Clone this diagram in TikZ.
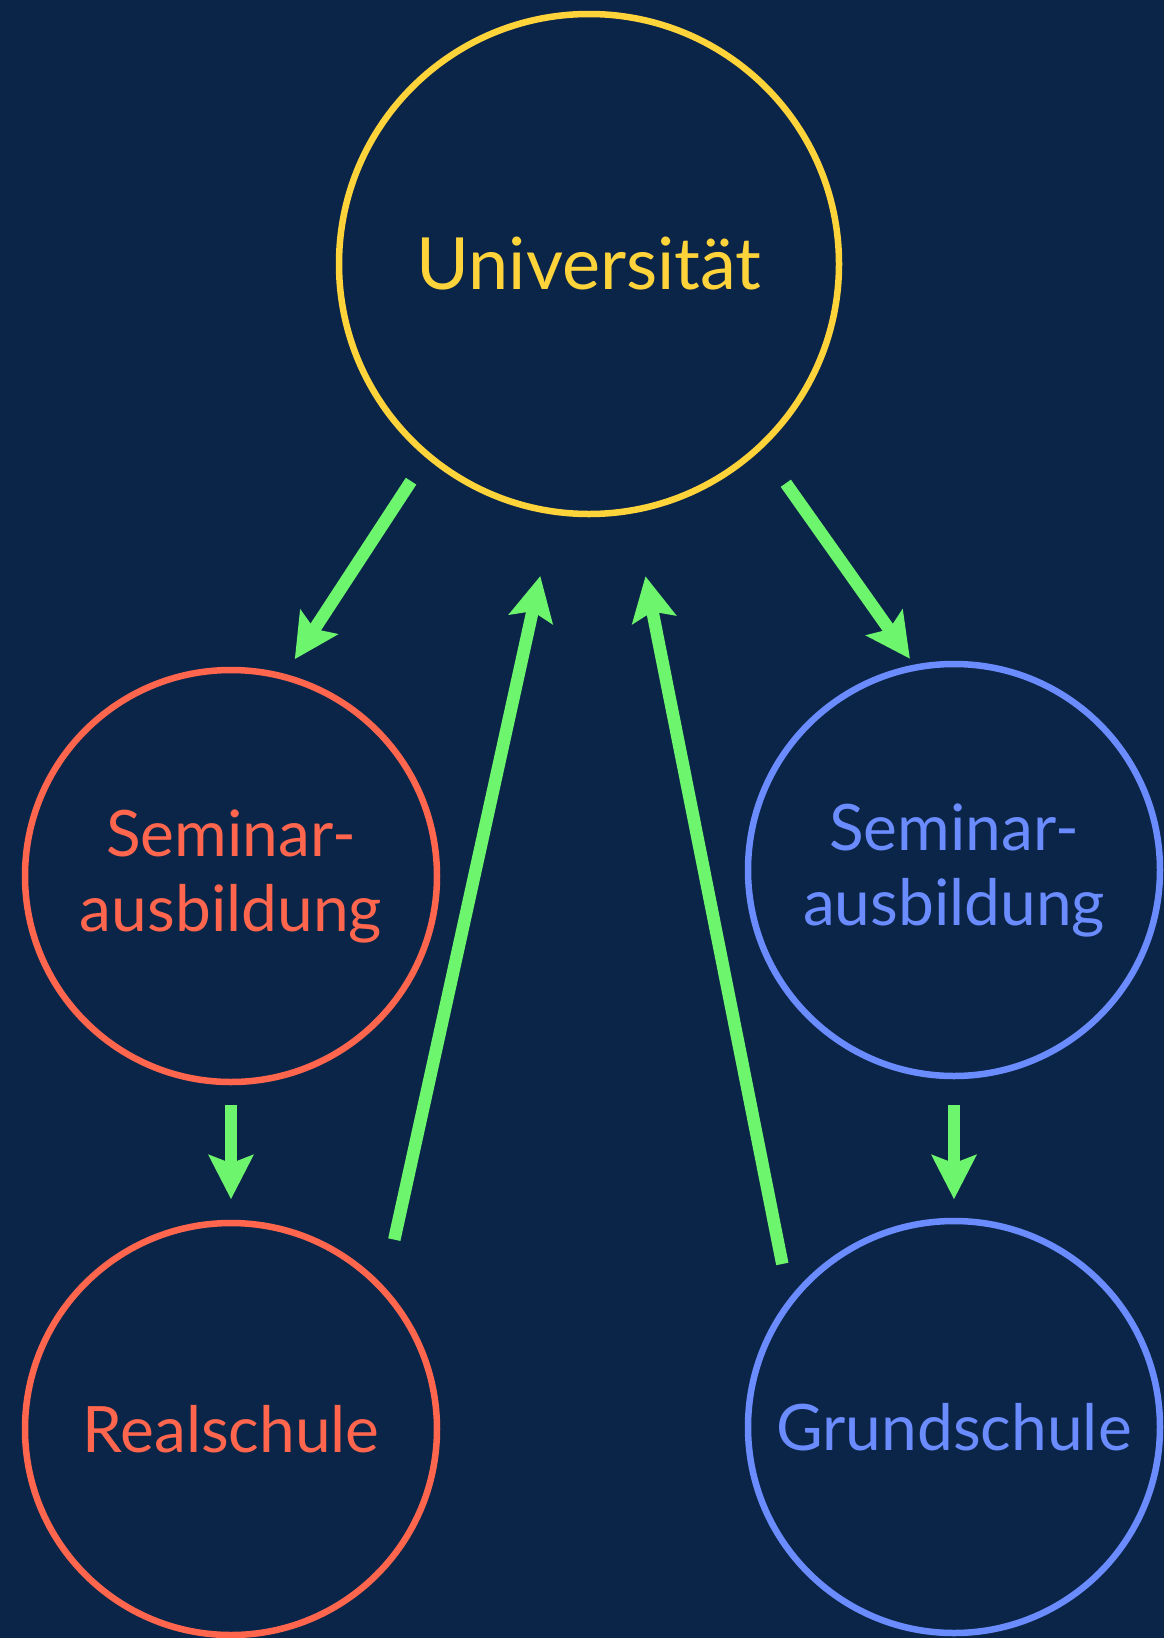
\documentclass[tikz,border=0pt]{standalone}
\usepackage{fontspec}
\setmainfont{Lato}
\usepackage{xcolor}
\definecolor{nightblue}{RGB}{11,37,72}
\definecolor{unigold}{RGB}{255,212,59}
\definecolor{realred}{RGB}{255,102,77}
\definecolor{grundblue}{RGB}{107,140,255}
\definecolor{pathgreen}{RGB}{110,245,110}
\usepackage{tikz}
\usetikzlibrary{
  arrows.meta,
  positioning
}

\begin{document}
\begin{tikzpicture}[
  x=1pt, y=-1pt,
  stage/.style={circle, draw, line width=6.5pt, minimum size=412pt, inner sep=0pt, align=center, font=\fontsize{64}{75}\selectfont},
  hub/.style={stage, draw=unigold, text=unigold, minimum size=500pt, font=\fontsize{72}{80}\selectfont},
  redstage/.style={stage, draw=realred, text=realred},
  bluestage/.style={stage, draw=grundblue, text=grundblue},
  flow/.style={-{Stealth[length=44pt, width=44pt, inset=8pt]}, line width=12.5pt, pathgreen}
]
  \useasboundingbox (0,0) rectangle (1164,1638);
  \fill[nightblue] (0,0) rectangle (1164,1638);

  \node[hub] (uni) at (589,264) {Universität};
  \node[redstage] (semL) at (231,876) {Seminar-\\ausbildung};
  \node[bluestage] (semR) at (954,870) {Seminar-\\ausbildung};
  \node[redstage] (real) at (231,1429) {Realschule};
  \node[bluestage] (grund) at (954,1427) {Grundschule};

  \draw[flow, shorten <=27.7pt, shorten >=17.6pt] (uni.230.3) -- (semL.75);
  \draw[flow, shorten <=41.7pt, shorten >=7.2pt] (uni.313.6) -- (semR.101.8);
  \draw[flow, shorten <=19.5pt, shorten >=20.5pt] (semL.south) -- (real.north);
  \draw[flow, shorten <=25.5pt, shorten >=18.5pt] (semR.south) -- (grund.north);
  \draw[flow, shorten <=47.8pt, shorten >=62.7pt] (real.43.8) -- (uni.262.5);
  \draw[flow, shorten <=34.9pt, shorten >=64.1pt] (grund.142.1) -- (uni.280.4);
\end{tikzpicture}
\end{document}
